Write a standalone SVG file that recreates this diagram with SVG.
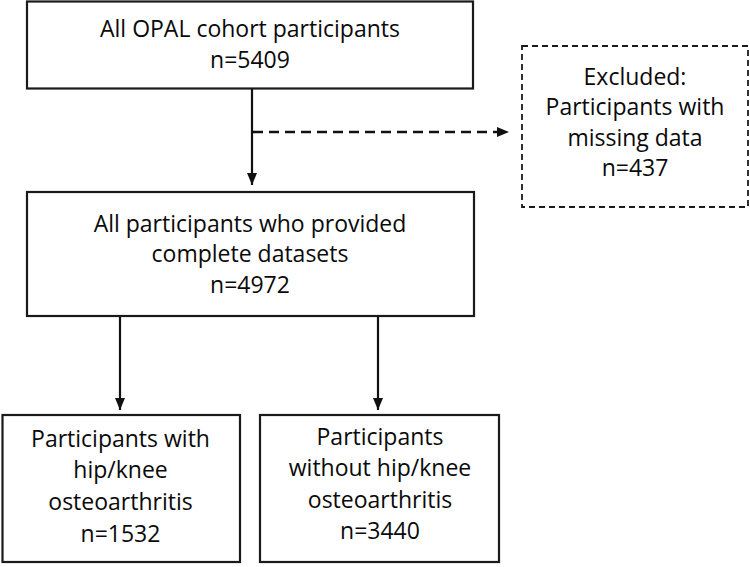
<svg xmlns="http://www.w3.org/2000/svg" width="750" height="567" viewBox="0 0 750 567">
<style>
.box{fill:#fff;stroke:#1a1a1a;stroke-width:2.2}
.dbox{fill:#fff;stroke:#1a1a1a;stroke-width:1.8;stroke-dasharray:6 4}
.t{font-family:"Open Sans","Noto Sans",sans-serif;font-size:23px;fill:#0a0a0a;text-anchor:middle}
.c{stroke:#111;stroke-width:2.2;fill:none}
.d{stroke:#111;stroke-width:2.6;fill:none;stroke-dasharray:10 6}
</style>
<defs>
<marker id="ah" viewBox="0 0 12 10" refX="12" refY="5" markerWidth="12" markerHeight="10" markerUnits="userSpaceOnUse" orient="auto">
<path d="M0,0 L12,5 L0,10 Z" fill="#111"/>
</marker>
</defs>
<rect width="750" height="567" fill="#fff"/>
<g id="connectors">
<line class="c" x1="252" y1="89" x2="252" y2="185" marker-end="url(#ah)"/>
<line class="d" x1="253" y1="132" x2="509" y2="132" marker-end="url(#ah)"/>
<line class="c" x1="120" y1="316" x2="120" y2="410" marker-end="url(#ah)"/>
<line class="c" x1="378" y1="316" x2="378" y2="410" marker-end="url(#ah)"/>
</g>
<g id="n1">
<rect class="box" x="27" y="1.5" width="446" height="87"/>
<text class="t" x="250" y="36.5">All OPAL cohort participants</text>
<text class="t" x="250" y="67.5">n=5409</text>
</g>
<g id="excluded">
<rect class="dbox" x="522" y="46" width="226" height="161"/>
<text class="t" x="635" y="85">Excluded:</text>
<text class="t" x="635" y="115">Participants with</text>
<text class="t" x="635" y="146">missing data</text>
<text class="t" x="635" y="176">n=437</text>
</g>
<g id="n2">
<rect class="box" x="27" y="192" width="447" height="124"/>
<text class="t" x="250" y="231.5">All participants who provided</text>
<text class="t" x="250" y="262">complete datasets</text>
<text class="t" x="250" y="293">n=4972</text>
</g>
<g id="n3">
<rect class="box" x="2.5" y="415" width="237.5" height="147"/>
<text class="t" x="120.5" y="446.5">Participants with</text>
<text class="t" x="120.5" y="478">hip/knee</text>
<text class="t" x="120.5" y="510">osteoarthritis</text>
<text class="t" x="120.5" y="541.5">n=1532</text>
</g>
<g id="n4">
<rect class="box" x="260" y="415" width="239" height="147"/>
<text class="t" x="380" y="445">Participants</text>
<text class="t" x="380" y="476">without hip/knee</text>
<text class="t" x="380" y="508">osteoarthritis</text>
<text class="t" x="380" y="538.5">n=3440</text>
</g>
</svg>
